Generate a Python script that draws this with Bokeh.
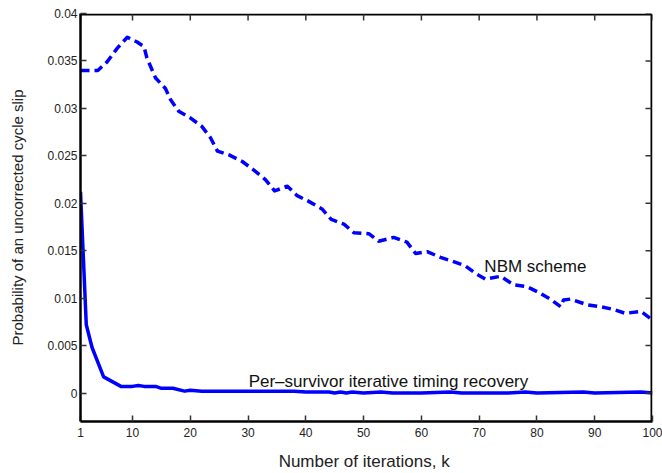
from bokeh.plotting import figure
from bokeh.models import Range1d, FixedTicker, Label
from bokeh.embed import file_html
from bokeh.resources import INLINE

# NBM scheme (dashed)
nbm_k = [1, 4, 5.6, 7.3, 9.1, 10.8, 12, 12.5, 14, 15.7, 16.6, 18, 20, 22, 23.5, 24.7,
         26.7, 29, 31, 33, 34.6, 36.8, 38.5, 40.5, 42.8, 44.4, 46.6, 48.3, 50.9, 52.6,
         55.2, 57.5, 59, 61, 63.3, 65.3, 67.6, 69.4, 71.1, 73.7, 76, 78.3, 80.3, 82.3,
         84.1, 84.6, 85.8, 88.7, 91, 93.3, 95.3, 98, 100]
nbm_p = [0.0340, 0.0340, 0.0349, 0.0363, 0.0375, 0.0370, 0.0365, 0.0353, 0.0332,
         0.0321, 0.0309, 0.0297, 0.0290, 0.0281, 0.0269, 0.0255, 0.0251, 0.0244,
         0.0235, 0.0225, 0.0213, 0.0218, 0.0208, 0.0202, 0.0194, 0.0183, 0.0178,
         0.0169, 0.0168, 0.0160, 0.0164, 0.0159, 0.0147, 0.0149, 0.0143, 0.0139,
         0.0134, 0.0126, 0.0120, 0.0123, 0.0114, 0.0112, 0.0106, 0.0099, 0.0091,
         0.0098, 0.0099, 0.0093, 0.0091, 0.0088, 0.0084, 0.0086, 0.0077]

# Per-survivor iterative timing recovery (solid)
ps_k = [1, 2, 3, 5, 8, 10, 11, 12, 14, 15, 17, 19, 20, 22, 25, 30, 38, 40, 44, 45,
        46, 47, 48, 50, 53, 55, 60, 65, 67, 75, 78, 80, 88, 90, 98, 100]
ps_p = [0.0212, 0.0072, 0.0048, 0.0017, 0.0007, 0.0007, 0.0008, 0.0007, 0.0007,
        0.0005, 0.0005, 0.0002, 0.0003, 0.0002, 0.0002, 0.0002, 0.0002, 0.0001,
        0.0001, 0.0000, 0.0001, 0.0000, 0.0001, 0.0000, 0.0001, 0.0000, 0.0000,
        0.0001, 0.0000, 0.0000, 0.0001, 0.0000, 0.0001, 0.0000, 0.0001, 0.0000]

x_ticks = [1, 10, 20, 30, 40, 50, 60, 70, 80, 90, 100]
y_ticks = [0, 0.005, 0.01, 0.015, 0.02, 0.025, 0.03, 0.035, 0.04]
y_labels = {0: "0", 0.005: "0.005", 0.01: "0.01", 0.015: "0.015", 0.02: "0.02",
            0.025: "0.025", 0.03: "0.03", 0.035: "0.035", 0.04: "0.04"}

X_MIN, X_MAX = 1, 100
Y_MIN, Y_MAX = -0.003, 0.04
FONT = "Liberation Sans"

# data units per screen pixel (frame is 572 x 410 px)
PX_X = (X_MAX - X_MIN) / 572
PX_Y = (Y_MAX - Y_MIN) / 410

p = figure(width=662, height=473, output_backend="svg", toolbar_location=None,
           x_range=Range1d(X_MIN, X_MAX), y_range=Range1d(Y_MIN, Y_MAX),
           min_border_left=80, min_border_right=10, min_border_top=13,
           min_border_bottom=50)
p.grid.visible = False
p.outline_line_color = None
p.background_fill_color = "white"
p.border_fill_color = "white"

p.line(nbm_k, nbm_p, line_color="#0000ff", line_width=3.5, line_dash="9 5",
       line_join="round")
p.line(ps_k, ps_p, line_color="#0000ff", line_width=3.5, line_join="round")

# box: top and right edges, drawn just inside the frame
top_y = Y_MAX - 1.0 * PX_Y
right_x = X_MAX - 1.0 * PX_X
p.line(x=[X_MIN, right_x, right_x], y=[top_y, top_y, Y_MIN], line_color="black",
       line_width=2)

# inward ticks on top and right edges (tick length ~6 px)
p.multi_line(xs=[[right_x - 6 * PX_X, right_x] for _ in y_ticks],
             ys=[[t, t] for t in y_ticks], line_color="#333333", line_width=1.5)
p.multi_line(xs=[[t, t] for t in x_ticks],
             ys=[[top_y - 6 * PX_Y, top_y] for _ in x_ticks],
             line_color="#333333", line_width=1.5)

for ax in (p.xaxis[0], p.yaxis[0]):
    ax.major_tick_in = 6
    ax.major_tick_out = 0
    ax.minor_tick_line_color = None
    ax.axis_line_width = 2.5
    ax.axis_line_color = "black"
    ax.major_tick_line_color = "#333333"
    ax.major_tick_line_width = 1.5
    ax.major_label_text_font = FONT
    ax.major_label_text_font_size = "12px"
    ax.major_label_text_color = "#222222"
    ax.axis_label_text_font = FONT
    ax.axis_label_text_font_style = "normal"
    ax.axis_label_text_color = "#222222"

p.xaxis[0].ticker = FixedTicker(ticks=x_ticks)
p.yaxis[0].ticker = FixedTicker(ticks=y_ticks)
p.yaxis[0].major_label_overrides = y_labels
p.yaxis[0].axis_label = "Probability of an uncorrected cycle slip"
p.yaxis[0].axis_label_text_font_size = "15px"
p.xaxis[0].axis_label = "Number of iterations,  k"
p.xaxis[0].axis_label_text_font_size = "17px"
p.xaxis[0].major_label_standoff = 6
p.xaxis[0].axis_label_standoff = 12
p.yaxis[0].major_label_standoff = 3
p.yaxis[0].axis_label_standoff = 18

p.add_layout(Label(x=70.9, y=0.0133, text="NBM scheme", text_font=FONT,
                   text_font_size="17px", text_color="#111111",
                   text_baseline="alphabetic"))
p.add_layout(Label(x=30.1, y=0.00126, text="Per\u2013survivor iterative timing recovery",
                   text_font=FONT, text_font_size="17px", text_color="#111111",
                   text_baseline="alphabetic"))

open("out.html", "w").write(file_html(p, INLINE))
